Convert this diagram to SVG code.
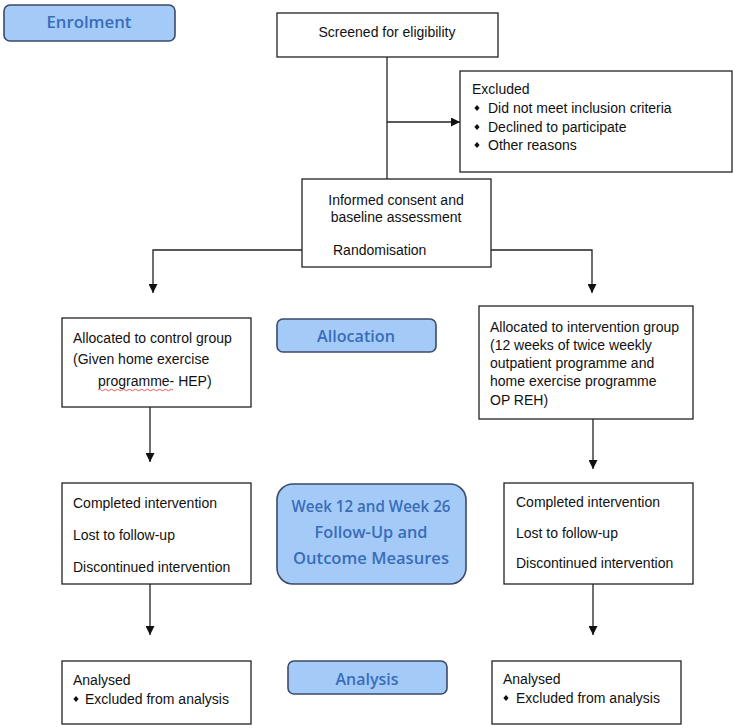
<svg xmlns="http://www.w3.org/2000/svg" width="737" height="728" viewBox="0 0 737 728">
<defs>
<style>
.box{fill:#fff;stroke:#222;stroke-width:1.3}
.pill{fill:#a4cbf8;stroke:#3b4a66;stroke-width:1.6}
.t{font-family:"Liberation Sans",Arial,sans-serif;font-size:14px;fill:#111}
.p{font-family:"Open Sans","Noto Sans",sans-serif;font-weight:600;font-size:17px;fill:#3a6cb8;text-anchor:middle}
.c{text-anchor:middle}
.ln{fill:none;stroke:#222;stroke-width:1.3}
</style>
<marker id="ah" viewBox="0 0 10 10" refX="10" refY="5" markerWidth="9" markerHeight="9" markerUnits="userSpaceOnUse" orient="auto">
<path d="M0,0 L10,5 L0,10 z" fill="#111"/>
</marker>
<polygon id="dm" points="0,-3 2.6,0 0,3 -2.6,0" fill="#111"/>
</defs>
<rect width="737" height="728" fill="#fff"/>

<g id="connectors">
<line class="ln" x1="387" y1="57" x2="387" y2="179"/>
<line class="ln" x1="387" y1="122" x2="460" y2="122" marker-end="url(#ah)"/>
<polyline class="ln" points="302,250 153,250 153,293" marker-end="url(#ah)"/>
<polyline class="ln" points="491,250 592,250 592,293" marker-end="url(#ah)"/>
<line class="ln" x1="150" y1="407" x2="150" y2="462" marker-end="url(#ah)"/>
<line class="ln" x1="593" y1="419" x2="593" y2="469" marker-end="url(#ah)"/>
<line class="ln" x1="150" y1="584" x2="150" y2="635" marker-end="url(#ah)"/>
<line class="ln" x1="593" y1="584" x2="593" y2="635" marker-end="url(#ah)"/>
</g>

<g id="enrolment">
<rect class="pill" x="4" y="5" width="171" height="36" rx="6"/>
<text class="p" x="89" y="28" textLength="85" lengthAdjust="spacingAndGlyphs">Enrolment</text>
</g>

<g id="screened">
<rect class="box" x="277" y="13" width="221" height="44"/>
<text class="t c" x="387" y="37">Screened for eligibility</text>
</g>

<g id="excluded">
<rect class="box" x="460" y="71" width="272" height="101"/>
<text class="t" x="472" y="94">Excluded</text>
<use href="#dm" x="477" y="108"/>
<text class="t" x="488" y="113">Did not meet inclusion criteria</text>
<use href="#dm" x="477" y="127"/>
<text class="t" x="488" y="132">Declined to participate</text>
<use href="#dm" x="477" y="145"/>
<text class="t" x="488" y="150">Other reasons</text>
</g>

<g id="consent">
<rect class="box" x="302" y="179" width="189" height="88"/>
<text class="t c" x="396" y="205">Informed consent and</text>
<text class="t c" x="396" y="222">baseline assessment</text>
<text class="t" x="333" y="255">Randomisation</text>
</g>

<g id="control">
<rect class="box" x="62" y="318" width="189" height="89"/>
<text class="t" x="73" y="343">Allocated to control group</text>
<text class="t" x="73" y="364">(Given home exercise</text>
<text class="t" x="98" y="386">programme- HEP)</text>
<path d="M98,390 q1.5,-1.5 3,0 t3,0 t3,0 t3,0 t3,0 t3,0 t3,0 t3,0 t3,0 t3,0 t3,0 t3,0 t3,0 t3,0 t3,0 t3,0 t3,0 t3,0 t3,0 t3,0 t3,0 t3,0 t3,0 t3,0 t3,0" fill="none" stroke="#d33" stroke-width="0.8"/>
</g>

<g id="allocation">
<rect class="pill" x="277" y="319" width="159" height="33" rx="6"/>
<text class="p" x="356" y="342" textLength="78" lengthAdjust="spacingAndGlyphs">Allocation</text>
</g>

<g id="intervention">
<rect class="box" x="479" y="306" width="214" height="113"/>
<text class="t" x="490" y="332">Allocated to intervention group</text>
<text class="t" x="490" y="350">(12 weeks of twice weekly</text>
<text class="t" x="490" y="368">outpatient programme and</text>
<text class="t" x="490" y="386">home exercise programme</text>
<text class="t" x="490" y="405">OP REH)</text>
</g>

<g id="completed-control">
<rect class="box" x="62" y="483" width="189" height="101"/>
<text class="t" x="73" y="508">Completed intervention</text>
<text class="t" x="73" y="540">Lost to follow-up</text>
<text class="t" x="73" y="572">Discontinued intervention</text>
</g>

<g id="followup">
<rect class="pill" x="277" y="484" width="189" height="100" rx="16" fill="#9dc5f6"/>
<text class="p" x="371" y="512" textLength="159" lengthAdjust="spacingAndGlyphs">Week 12 and Week 26</text>
<text class="p" x="371" y="538" textLength="113" lengthAdjust="spacingAndGlyphs">Follow-Up and</text>
<text class="p" x="371" y="564" textLength="156" lengthAdjust="spacingAndGlyphs">Outcome Measures</text>
</g>

<g id="completed-intervention">
<rect class="box" x="504" y="483" width="189" height="101"/>
<text class="t" x="516" y="507">Completed intervention</text>
<text class="t" x="516" y="538">Lost to follow-up</text>
<text class="t" x="516" y="568">Discontinued intervention</text>
</g>

<g id="analysed-control">
<rect class="box" x="62" y="661" width="189" height="63"/>
<text class="t" x="73" y="685">Analysed</text>
<use href="#dm" x="76" y="699"/>
<text class="t" x="85" y="704">Excluded from analysis</text>
</g>

<g id="analysis">
<rect class="pill" x="288" y="661" width="159" height="33" rx="6"/>
<text class="p" x="367" y="685" textLength="63" lengthAdjust="spacingAndGlyphs">Analysis</text>
</g>

<g id="analysed-intervention">
<rect class="box" x="492" y="661" width="189" height="63"/>
<text class="t" x="503" y="684">Analysed</text>
<use href="#dm" x="506" y="698"/>
<text class="t" x="516" y="703">Excluded from analysis</text>
</g>
</svg>
